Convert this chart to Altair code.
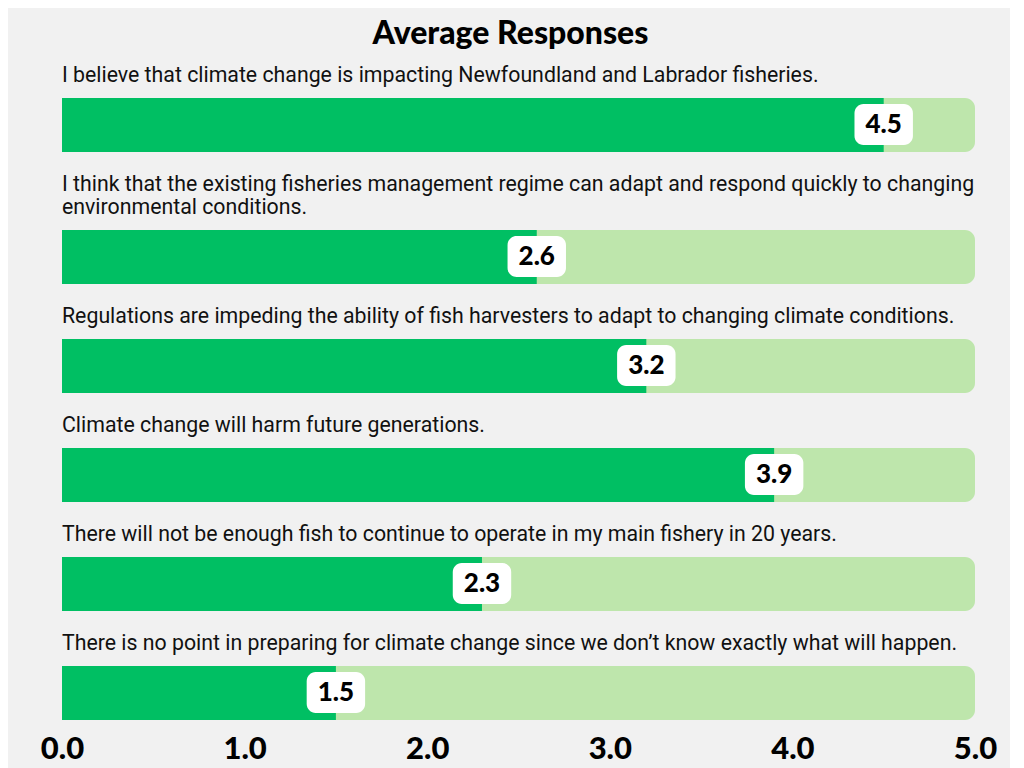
import altair as alt
import pandas as pd

statements = [
    ["I believe that climate change is impacting Newfoundland and Labrador fisheries."],
    ["I think that the existing fisheries management regime can adapt and respond quickly to changing",
     "environmental conditions."],
    ["Regulations are impeding the ability of fish harvesters to adapt to changing climate conditions."],
    ["Climate change will harm future generations."],
    ["There will not be enough fish to continue to operate in my main fishery in 20 years."],
    ["There is no point in preparing for climate change since we don\u2019t know exactly what will happen."],
]
averages = [4.5, 2.6, 3.2, 3.9, 2.3, 1.5]
scale_min = 0
scale_max = 5
tick_values = [0, 1, 2, 3, 4, 5]

DARK = "#00BF63"
LIGHT = "#BEE6AC"
BG = "#F1F1F1"

W = 913
H = 54

df = pd.DataFrame({
    "idx": list(range(len(averages))),
    "value": averages,
    "start": [scale_min] * len(averages),
    "end": [scale_max] * len(averages),
})
df["label"] = [f"{v:.1f}" for v in averages]
df["lo"] = df["value"] - 0.16
df["hi"] = df["value"] + 0.16

panels = []
for i, lines in enumerate(statements):
    last = i == len(statements) - 1
    if last:
        axis = alt.Axis(values=tick_values, format=".1f", labelFont="Lato",
                        labelFontWeight=900, labelFontSize=31, labelColor="black",
                        domain=False, ticks=False, grid=False, labelPadding=14,
                        labelFlush=False, labelOverlap=False, title=None)
    else:
        axis = None
    xscale = alt.Scale(domain=[scale_min, scale_max], nice=False, zero=False)
    base = alt.Chart(df).transform_filter(alt.datum.idx == i)
    bg = base.mark_rect(color=LIGHT, cornerRadiusTopRight=10, cornerRadiusBottomRight=10).encode(
        x=alt.X("start:Q", scale=xscale, axis=axis), x2="end:Q")
    fg = base.mark_rect(color=DARK).encode(
        x=alt.X("start:Q", scale=xscale, axis=axis), x2="value:Q")
    box = base.mark_rect(color="white", cornerRadius=9).encode(
        x=alt.X("lo:Q", scale=xscale, axis=axis), x2="hi:Q",
        y=alt.value(6), y2=alt.value(47))
    txt = base.mark_text(font="Lato", fontWeight=900, fontSize=26, color="black",
                         align="center", baseline="middle").encode(
        x=alt.X("value:Q", scale=xscale, axis=axis), y=alt.value(27), text="label:N")
    panel = alt.layer(bg, fg, box, txt).properties(
        width=W, height=H,
        title=alt.TitleParams(lines, anchor="start", frame="group", font="Roboto",
                              fontSize=21.3, fontWeight="normal", color="#111111",
                              offset=12, lineHeight=23))
    panels.append(panel)

chart = alt.vconcat(*panels, spacing=21).properties(
    title=alt.TitleParams("Average Responses", font="Lato", fontWeight=900,
                          fontSize=32, color="black", anchor="middle", frame="group",
                          offset=14, dx=-8),
    padding={"left": 32, "top": 9, "right": 13, "bottom": 20},
    background=BG,
).configure_view(stroke=None).configure_concat(spacing=21)

chart.save("out.html", embed_options={"renderer": "svg", "actions": False})
